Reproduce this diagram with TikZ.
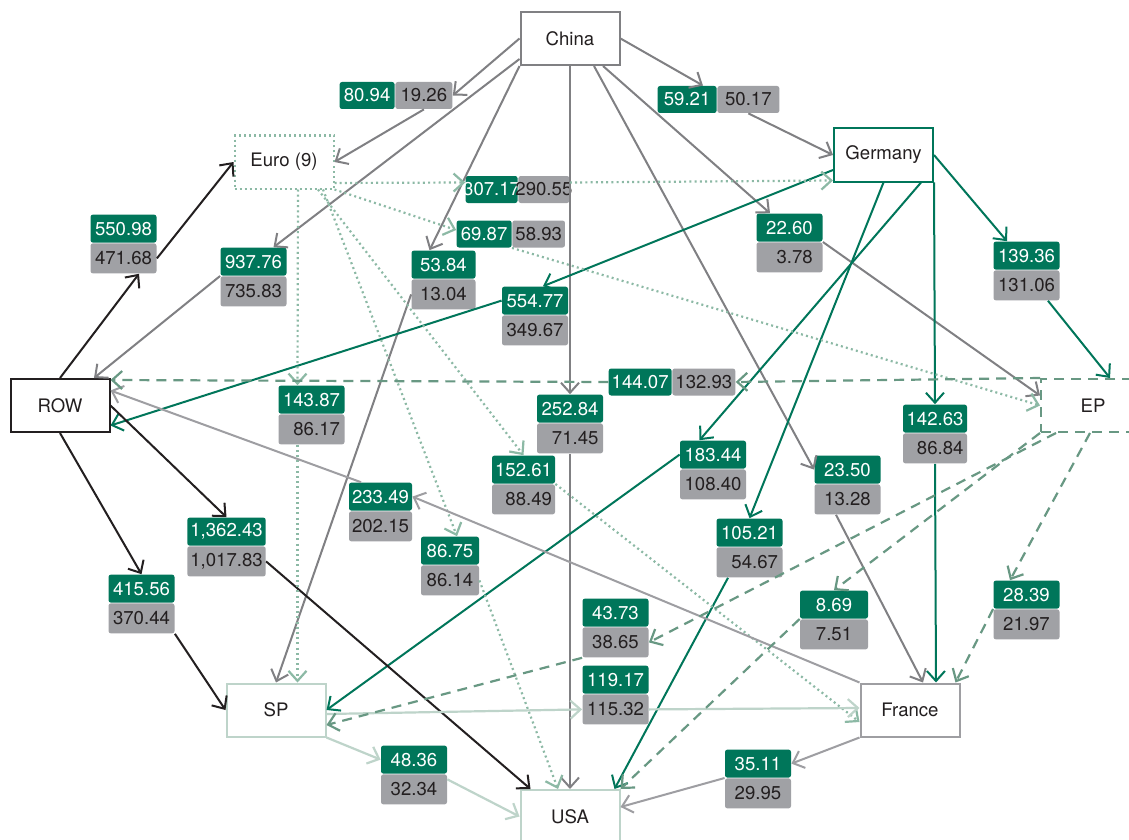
\documentclass[tikz,border=0pt]{standalone}
\usepackage{fontspec}
\setmainfont{TeX Gyre Heros}
\usetikzlibrary{arrows.meta}
\definecolor{grn}{RGB}{0,118,90}
\definecolor{lgr}{RGB}{160,161,165}
\definecolor{cgray}{RGB}{128,128,131}
\definecolor{fgray}{RGB}{158,158,162}
\definecolor{blk}{RGB}{35,31,32}
\definecolor{eucol}{RGB}{140,185,165}
\definecolor{epcol}{RGB}{104,152,131}
\definecolor{spcol}{RGB}{190,212,202}
\definecolor{txt}{RGB}{35,31,32}
\newcommand\labfont{\fontsize{9.3}{11}\selectfont}
\tikzset{
  box/.style={draw, fill=white, line width=1pt, minimum width=49.5pt, minimum height=26.5pt, inner sep=0pt, font=\labfont, text=txt},
  gbox/.style={fill=grn, text=white, inner xsep=1.5pt, inner ysep=0pt, minimum height=14pt, rounded corners=1.2pt, font=\labfont},
  rbox/.style={fill=lgr, text=txt, inner xsep=1.5pt, inner ysep=0pt, minimum height=15pt, rounded corners=1.2pt, font=\labfont},
  ar/.style={-{Straight Barb[length=5pt,width=9pt]}},
  cedge/.style={ar, draw=cgray, line width=1pt},
  gedge/.style={ar, draw=grn, line width=1pt},
  bedge/.style={ar, draw=blk, line width=1pt},
  fedge/.style={ar, draw=fgray, line width=1pt},
  sedge/.style={ar, draw=spcol, line width=1.1pt},
  eedge/.style={ar, draw=eucol, line width=1.1pt, dash pattern=on 1pt off 1.6pt},
  pedge/.style={ar, draw=epcol, line width=1.1pt, dash pattern=on 5pt off 3.5pt},
}
% vertical label: [width]{name}{cx}{seam y}{top}{bottom}
\newcommand\mkv[6][33pt]{%
  \node[gbox, minimum width=#1, anchor=south] (g#2) at (#3,#4) {#5};
  \node[rbox, minimum width=#1, anchor=north] (r#2) at (#3,#4) {#6};}
% horizontal label: {name}{seam x}{cy}{left}{right}{wl}{wr}
\newcommand\mkh[7]{%
  \node[gbox, minimum height=13.5pt, minimum width=#6, anchor=east] (g#1) at (#2,#3) {#4};
  \node[rbox, minimum height=13.5pt, minimum width=#7, anchor=west] (r#1) at (#2,#3) {#5};}
\begin{document}
\begin{tikzpicture}[x=0.5pt, y=-0.5pt]
\useasboundingbox (0,0) rectangle (1129,840);
\fill[white] (0,0) rectangle (1129,840);

% main boxes
\node[box, draw=cgray] (China) at (570,38.5) {China};
\node[box, draw=eucol, dash pattern=on 1pt off 1.5pt] (Euro) at (284,162) {Euro (9)};
\node[box, draw=grn] (Germany) at (883.5,155) {Germany};
\node[box, draw=blk] (ROW) at (60,405.5) {ROW};
\node[box, draw=epcol, dash pattern=on 5pt off 3.5pt, minimum width=52pt] (EP) at (1093,405.5) {EP};
\node[box, draw=spcol] (SP) at (276,710) {SP};
\node[box, draw=fgray] (France) at (910,710) {France};
\node[box, draw=spcol] (USA) at (570,816.5) {USA};

% labels
\mkh{cnEu}{395}{95.5}{80.94}{19.26}{27.5pt}{28.5pt}
\mkv{cnRw}{253.5}{276}{937.76}{735.83}
\mkv[32pt]{cnSp}{443.5}{279}{53.84}{13.04}
\mkv{cnUs}{570}{423}{252.84}{\hphantom{0}71.45}
\mkh{cnDe}{717}{99.5}{59.21}{50.17}{29.5pt}{31pt}
\mkv{cnEp}{789.5}{242}{22.60}{\hphantom{0}3.78}
\mkv{cnFr}{847.5}{484}{23.50}{13.28}
\mkv{deRw}{535}{315}{554.77}{349.67}
\mkv{deSp}{713}{469}{183.44}{108.40}
\mkv{deUs}{749.5}{547}{105.21}{\hphantom{0}54.67}
\mkv[32pt]{deFr}{935}{433}{142.63}{\hphantom{0}86.84}
\mkv{deEp}{1026.5}{270}{139.36}{131.06}
\mkv{rwEu}{123.5}{243}{550.98}{471.68}
\mkv{rwUs}{226.5}{546}{1,362.43}{1,017.83}
\mkv{rwSp}{141.5}{603}{415.56}{370.44}
\node[gbox, minimum height=13.5pt, minimum width=26pt, inner xsep=0pt, anchor=east] (geuDe) at (518,189.5) {\makebox[26pt]{307.17}};
\node[rbox, minimum height=13.5pt, minimum width=25.5pt, inner xsep=0pt, anchor=west] (reuDe) at (518,189.5) {\makebox[25.5pt]{290.55}};
\mkh{euEp}{512}{234}{69.87}{58.93}{27.5pt}{26pt}
\mkv{euSp}{311.5}{414}{143.87}{\hphantom{0}86.17}
\mkv[31.5pt]{euFr}{523.5}{484}{152.61}{\hphantom{0}88.49}
\mkv[29pt]{euUs}{450}{565}{86.75}{86.14}
\mkv{spFr}{615.5}{694}{119.17}{115.32}
\mkv{spUs}{414}{774}{48.36}{32.34}
\mkv[31.5pt]{frRw}{380.5}{511}{233.49}{202.15}
\mkv{frUs}{758}{778}{35.11}{29.95}
\mkh{epRw}{672}{382}{144.07}{132.93}{30.5pt}{31pt}
\mkv{epSp}{615.5}{627}{43.73}{38.65}
\mkv[34pt]{epUs}{834}{619}{8.69}{7.51}
\mkv{epFr}{1026.5}{609}{28.39}{21.97}

% China edges
\draw[cedge] (China.west) -- (rcnEu.east);
\draw[cedge] (rcnEu.south) -- (Euro.east);
\draw[cedge] ([yshift=3.5pt]China.south west) -- ([xshift=10pt]gcnRw.north);
\draw[cedge] (rcnRw.north west) -- ([xshift=17pt]ROW.north);
\draw[cedge] (China.south west) -- ([xshift=-7pt]gcnSp.north);
\draw[cedge] (rcnSp.west) -- (SP.north);
\draw[cedge] (China.south) -- (gcnUs.north);
\draw[cedge] (rcnUs.south) -- (USA.north);
\draw[cedge] (China.east) -- ([xshift=-7pt]gcnDe.north east);
\draw[cedge] (rcnDe.south) -- (Germany.west);
\draw[cedge] ([xshift=16.5pt]China.south) -- ([xshift=-9.75pt]gcnEp.north);
\draw[cedge] (rcnEp.north east) -- ([yshift=5pt]EP.west);
\draw[cedge] ([xshift=12pt]China.south) -- (gcnFr.west);
\draw[cedge] ([xshift=-5.75pt]rcnFr.south) -- ([xshift=6.5pt]France.north);

% Germany edges
\draw[gedge] ([yshift=-7.5pt]Germany.west) -- ([xshift=4pt]gdeRw.north);
\draw[gedge] (gdeRw.west) -- ([yshift=-10pt]ROW.east);
\draw[gedge] ([xshift=18.75pt]Germany.south) -- ([xshift=-6.75pt]gdeSp.north);
\draw[gedge] (gdeSp.west) -- (SP.east);
\draw[gedge] (Germany.south) -- (gdeUs.north);
\draw[gedge] ([xshift=-10.75pt]rdeUs.south) -- ([xshift=-3pt]USA.north east);
\draw[gedge] (Germany.south east) -- (gdeFr.north);
\draw[gedge] (rdeFr.south) -- ([xshift=13pt]France.north);
\draw[gedge] (Germany.east) -- ([xshift=-9.75pt]gdeEp.north);
\draw[gedge] ([xshift=10.75pt]rdeEp.south) -- ([xshift=8.5pt]EP.north);

% ROW edges
\draw[bedge] (ROW.north) -- ([xshift=7.75pt]rrwEu.south);
\draw[bedge] (rrwEu.east) -- (Euro.west);
\draw[bedge] (ROW.east) -- (grwUs.north);
\draw[bedge] (rrwUs.east) -- ([xshift=5.5pt]USA.north west);
\draw[bedge] (ROW.south) -- (grwSp.north);
\draw[bedge] (rrwSp.south east) -- (SP.west);

% Euro edges
\draw[eedge] ([yshift=-10.5pt]Euro.east) -- ([yshift=3.5pt]geuDe.west);
\draw[eedge] ([yshift=3.5pt]reuDe.east) -- ([yshift=1pt]Germany.south west);
\draw[eedge] (Euro.south east) -- ([yshift=2pt]geuEp.west);
\draw[eedge] (reuEp.south west) -- (EP.west);
\draw[eedge] ([xshift=7pt]Euro.south) -- ([xshift=-7pt]geuSp.north);
\draw[eedge] ([xshift=-7pt]reuSp.south) -- ([xshift=10.75pt]SP.north);
\draw[eedge] ([xshift=17pt]Euro.south) -- (geuFr.north);
\draw[eedge] (geuFr.south east) -- ([yshift=-6pt]France.west);
\draw[eedge] ([xshift=19.5pt]Euro.south) -- ([xshift=3.5pt]geuUs.north);
\draw[eedge] (reuUs.east) -- ([xshift=-6pt]USA.north);

% SP edges
\draw[sedge] ([yshift=-2pt]SP.east) -- (rspFr.west);
\draw[sedge] (rspFr.east) -- ([yshift=1pt]France.west);
\draw[sedge] (SP.south east) -- (gspUs.west);
\draw[sedge] ([yshift=5pt]rspUs.east) -- (USA.west);

% France edges
\draw[fedge] (France.north west) -- (gfrRw.east);
\draw[fedge] ([xshift=-9.75pt]gfrRw.north) -- ([yshift=7.5pt]ROW.east);
\draw[fedge] (France.south west) -- (gfrUs.east);
\draw[fedge] (rfrUs.north west) -- ([yshift=4.75pt]USA.east);

% EP edges
\draw[pedge] (EP.north west) -- (repRw.east);
\draw[pedge] (gepRw.west) -- ([yshift=-1pt]ROW.north east);
\draw[pedge] ([xshift=8pt]EP.south west) -- (repSp.east);
\draw[pedge] (repSp.south west) -- ([yshift=-7.5pt]SP.east);
\draw[pedge] (EP.south west) -- (gepUs.north);
\draw[pedge] (repUs.north west) -- (USA.north east);
\draw[pedge] ([xshift=-1.5pt]EP.south) -- ([xshift=-8.25pt]gepFr.north);
\draw[pedge] (gepFr.south west) -- ([xshift=-2.5pt]France.north east);
\end{tikzpicture}
\end{document}
